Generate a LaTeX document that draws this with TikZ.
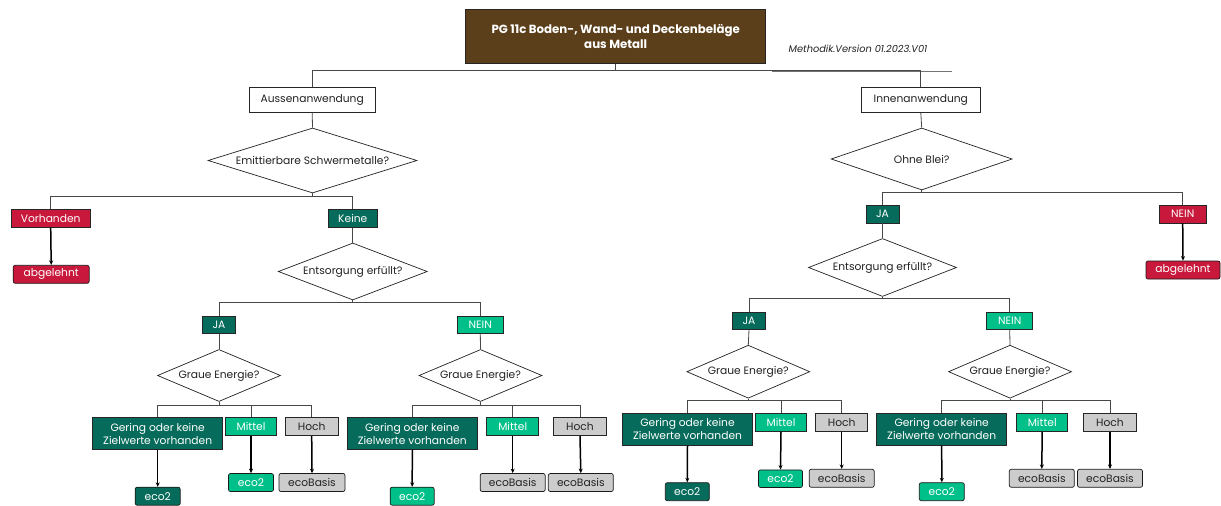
\documentclass[tikz,border=0pt]{standalone}
\usepackage{fontspec}
\setmainfont{Poppins}
\usetikzlibrary{shapes.geometric,arrows.meta}
\definecolor{cbrown}{HTML}{5B3F1A}
\definecolor{cdgreen}{HTML}{066B5A}
\definecolor{clgreen}{HTML}{00C08A}
\definecolor{cgrayfill}{HTML}{CCCCCC}
\definecolor{cred}{HTML}{C8193C}
\definecolor{cline}{HTML}{484848}
\definecolor{ctext}{HTML}{222222}
\begin{document}
\begin{tikzpicture}[x=1pt,y=-1pt,
  every node/.style={font=\fontsize{10.7}{13}\selectfont, inner sep=0pt, align=center},
  box/.style={draw=black!85, line width=0.6pt},
  wbox/.style={box, fill=white, text=ctext},
  dkbox/.style={box, fill=cdgreen, text=white},
  lgbox/.style={box, fill=clgreen, text=white},
  gybox/.style={box, fill=cgrayfill, text=ctext},
  rdbox/.style={box, fill=cred, text=white},
  res/.style={rounded corners=2pt, draw=black!90, line width=0.7pt},
  dia/.style={shape=diamond, draw=ctext, line width=0.7pt, fill=white, text=ctext},
  conn/.style={draw=cline, line width=0.8pt},
  arr/.style={draw=black, line width=1.5pt, -{Stealth[length=4.5pt,width=4pt]}}
]
\path[fill=white, use as bounding box] (0,0) rectangle (1221,506);

% title
\node[box, fill=cbrown, text=white, minimum width=300, minimum height=54, font=\fontsize{11.8}{15.5}\selectfont\bfseries] (title) at (615.7,36.3) {PG 11c Boden-, Wand- und Deckenbeläge\\aus Metall};
\node[text=ctext, font=\fontsize{9.8}{11}\selectfont\itshape] (meth) at (858,49) {Methodik.Version 01.2023.V01};
\coordinate (ul1) at (771.7,71.5);
\coordinate (ul2) at (952.3,71.5);
\draw[draw=black!55, line width=0.9pt] (ul1) -- (ul2);

% branch levels
\coordinate (yb0) at (0,70.7);
\coordinate (yb1) at (0,196.7);
\coordinate (yb2) at (0,192.3);
\coordinate (yb3) at (0,302.7);
\coordinate (yb4) at (0,298.5);
\coordinate (yb5) at (0,405);
\coordinate (yb6) at (0,400.7);

% level 1
\node[wbox, minimum width=125.7, minimum height=25] (aussen) at (312.2,99.8) {Aussenanwendung};
\node[wbox, minimum width=118.3, minimum height=25] (innen) at (920.8,100.2) {Innenanwendung};

% diamonds level 2
\node[dia, aspect=3.2, minimum width=209, minimum height=65] (emit) at (312.5,160.5) {Emittierbare Schwermetalle?};
\node[dia, aspect=2.9, minimum width=181, minimum height=62] (ohne) at (921.7,159) {Ohne Blei?};

% level 3
\node[rdbox, minimum width=79, minimum height=18] (vorh) at (50.7,218.3) {Vorhanden};
\node[dkbox, minimum width=49, minimum height=18] (keine) at (352.8,218.3) {Keine};
\node[rdbox, res, minimum width=76, minimum height=18] (abg1) at (51.2,274.3) {abgelehnt};
\node[dkbox, minimum width=33, minimum height=18] (jaR) at (882.5,214) {JA};
\node[rdbox, minimum width=47, minimum height=18] (neinR) at (1182.7,214) {NEIN};
\node[rdbox, res, minimum width=74, minimum height=18] (abg2) at (1183,270) {abgelehnt};

% Entsorgung
\node[dia, aspect=2.6, minimum width=149, minimum height=57] (entL) at (352.8,271.5) {Entsorgung erfüllt?};
\node[dia, aspect=2.6, minimum width=148, minimum height=58] (entR) at (882.5,267.5) {Entsorgung erfüllt?};

% JA / NEIN
\node[dkbox, minimum width=33, minimum height=17] (jaL) at (219,324.7) {JA};
\node[lgbox, minimum width=46, minimum height=17] (neinL) at (480.3,324.7) {NEIN};
\node[dkbox, minimum width=33, minimum height=17] (jaRR) at (749,320.7) {JA};
\node[lgbox, minimum width=46, minimum height=17] (neinRR) at (1009.7,320.5) {NEIN};

% Graue Energie
\node[dia, aspect=2.4, minimum width=123, minimum height=52] (g1) at (219,375.5) {Graue Energie?};
\node[dia, aspect=2.4, minimum width=123, minimum height=52] (g2) at (480.5,375.5) {Graue Energie?};
\node[dia, aspect=2.4, minimum width=123, minimum height=53] (g3) at (748.3,371.7) {Graue Energie?};
\node[dia, aspect=2.4, minimum width=123, minimum height=53] (g4) at (1010,371.7) {Graue Energie?};

% group 1
\node[dkbox, minimum width=130, minimum height=32] (ger1) at (157.7,433.5) {Gering oder keine\\Zielwerte vorhanden};
\node[lgbox, minimum width=51, minimum height=18] (mit1) at (251,426.7) {Mittel};
\node[gybox, minimum width=53, minimum height=18] (hoch1) at (311.7,426.7) {Hoch};
\node[dkbox, res, minimum width=45, minimum height=18] (e1) at (157.7,496.2) {eco2};
\node[lgbox, res, minimum width=45, minimum height=18] (e2) at (251,482.5) {eco2};
\node[gybox, res, minimum width=66, minimum height=18] (e3) at (312,482.5) {ecoBasis};
% group 2
\node[dkbox, minimum width=130, minimum height=32] (ger2) at (412.3,433.5) {Gering oder keine\\Zielwerte vorhanden};
\node[lgbox, minimum width=52, minimum height=18] (mit2) at (512.7,426.7) {Mittel};
\node[gybox, minimum width=53, minimum height=18] (hoch2) at (580,426.7) {Hoch};
\node[lgbox, res, minimum width=44, minimum height=18] (e4) at (412.2,496.2) {eco2};
\node[gybox, res, minimum width=65, minimum height=18] (e5) at (512.7,482.5) {ecoBasis};
\node[gybox, res, minimum width=65, minimum height=18] (e6) at (580.8,482.5) {ecoBasis};
% group 3
\node[dkbox, minimum width=130, minimum height=32] (ger3) at (687.5,429.2) {Gering oder keine\\Zielwerte vorhanden};
\node[lgbox, minimum width=51, minimum height=18] (mit3) at (781,422.5) {Mittel};
\node[gybox, minimum width=52, minimum height=18] (hoch3) at (841.7,422.5) {Hoch};
\node[dkbox, res, minimum width=44, minimum height=18] (e7) at (687.3,491.7) {eco2};
\node[lgbox, res, minimum width=44, minimum height=17.5] (e8) at (780.5,478.7) {eco2};
\node[gybox, res, minimum width=65, minimum height=18] (e9) at (841.7,478.3) {ecoBasis};
% group 4
\node[dkbox, minimum width=130, minimum height=32] (ger4) at (941.7,429.2) {Gering oder keine\\Zielwerte vorhanden};
\node[lgbox, minimum width=51, minimum height=18] (mit4) at (1042.2,422.5) {Mittel};
\node[gybox, minimum width=53, minimum height=18] (hoch4) at (1110,422.5) {Hoch};
\node[lgbox, res, minimum width=45, minimum height=18] (e10) at (941.8,491.7) {eco2};
\node[gybox, res, minimum width=65, minimum height=18] (e11) at (1041.8,478.3) {ecoBasis};
\node[gybox, res, minimum width=65, minimum height=18] (e12) at (1110,478.3) {ecoBasis};

% connectors (tree)
\foreach \p/\c/\y in {title/aussen/yb0, title/innen/yb0,
  emit/vorh/yb1, emit/keine/yb1, ohne/jaR/yb2, ohne/neinR/yb2,
  entL/jaL/yb3, entL/neinL/yb3, entR/jaRR/yb4, entR/neinRR/yb4,
  g1/ger1/yb5, g1/mit1/yb5, g1/hoch1/yb5,
  g2/ger2/yb5, g2/mit2/yb5, g2/hoch2/yb5,
  g3/ger3/yb6, g3/mit3/yb6, g3/hoch3/yb6,
  g4/ger4/yb6, g4/mit4/yb6, g4/hoch4/yb6}
  {\draw[conn] (\p.south) -- (\p.south |- \y) -| (\c.north);}
\foreach \p/\c in {aussen/emit, innen/ohne, keine/entL, jaR/entR,
  jaL/g1, neinL/g2, jaRR/g3, neinRR/g4}
  {\draw[conn] (\p.south) -- (\c.north);}

% arrows
\foreach \p/\c in {vorh/abg1, neinR/abg2,
  ger1/e1, mit1/e2, hoch1/e3, ger2/e4, mit2/e5, hoch2/e6,
  ger3/e7, mit3/e8, hoch3/e9, ger4/e10, mit4/e11, hoch4/e12}
  {\draw[arr] (\p.south) -- (\c.north);}
\end{tikzpicture}
\end{document}
